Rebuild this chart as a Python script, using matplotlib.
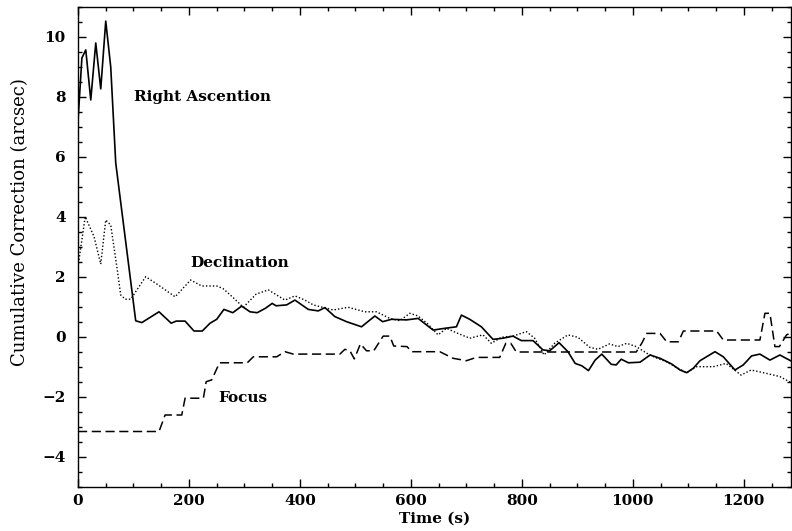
import matplotlib
matplotlib.use("Agg")
import matplotlib.pyplot as plt
from matplotlib.ticker import MultipleLocator

# Right Ascension (solid)
ra_t = [0, 7, 14, 23, 32, 41, 50, 59, 68, 104, 115, 146, 168, 177, 193, 209, 224, 238, 250, 263,
        279, 295, 310, 323, 338, 350, 357, 376, 391, 415, 433, 445, 463, 484, 511, 535, 549, 565,
        592, 613, 640, 661, 682, 691, 706, 727, 748, 766, 784, 799, 820, 838, 850, 867, 883, 896,
        908, 920, 932, 944, 961, 970, 979, 992, 1013, 1031, 1049, 1070, 1085, 1097, 1109, 1121,
        1148, 1163, 1184, 1199, 1214, 1229, 1247, 1265, 1285]
ra_v = [7.2, 9.3, 9.57, 7.9, 9.8, 8.27, 10.53, 9.0, 5.8, 0.54, 0.48, 0.84, 0.46, 0.53, 0.53, 0.2,
        0.2, 0.46, 0.59, 0.92, 0.81, 1.03, 0.84, 0.81, 0.96, 1.12, 1.04, 1.07, 1.23, 0.92, 0.87,
        0.98, 0.68, 0.51, 0.34, 0.7, 0.51, 0.59, 0.57, 0.62, 0.23, 0.29, 0.34, 0.73, 0.59, 0.34,
        -0.08, -0.04, 0.03, -0.12, -0.12, -0.43, -0.46, -0.19, -0.49, -0.88, -0.96, -1.12, -0.77,
        -0.57, -0.91, -0.93, -0.74, -0.86, -0.84, -0.6, -0.71, -0.9, -1.1, -1.19, -1.04, -0.79,
        -0.49, -0.66, -1.1, -0.93, -0.63, -0.57, -0.77, -0.6, -0.8]

# Declination (dotted)
dec_t = [0, 13, 29, 41, 50, 59, 70, 77, 85, 95, 122, 145, 175, 203, 223, 250, 261, 281, 298, 321,
         343, 373, 391, 409, 424, 460, 487, 517, 538, 562, 580, 598, 613, 629, 649, 664, 682, 706,
         730, 745, 763, 784, 808, 823, 840, 859, 883, 901, 922, 937, 958, 973, 989, 1006, 1025,
         1040, 1060, 1078, 1097, 1115, 1145, 1168, 1195, 1213, 1240, 1265, 1285]
dec_v = [2.34, 4.01, 3.34, 2.43, 3.9, 3.73, 2.34, 1.4, 1.26, 1.26, 2.01, 1.73, 1.34, 1.9, 1.7,
         1.7, 1.62, 1.29, 0.99, 1.43, 1.57, 1.23, 1.37, 1.23, 1.07, 0.9, 0.99, 0.84, 0.84, 0.62,
         0.54, 0.79, 0.7, 0.46, 0.07, 0.29, 0.14, -0.04, 0.07, -0.21, -0.01, 0.03, 0.18, -0.04,
         -0.6, -0.21, 0.07, -0.01, -0.34, -0.41, -0.23, -0.32, -0.21, -0.32, -0.54, -0.68, -0.82,
         -1.01, -1.19, -0.99, -0.99, -0.88, -1.27, -1.1, -1.21, -1.32, -1.52]

# Focus (dashed)
foc_t = [0, 146, 157, 187, 193, 226, 231, 241, 255, 305, 316, 358, 373, 388, 472, 481, 490, 498,
         509, 520, 533, 550, 562, 569, 593, 601, 652, 676, 700, 718, 760, 771, 780, 790, 1006,
         1016, 1025, 1049, 1061, 1082, 1091, 1151, 1163, 1229, 1238, 1247, 1256, 1264, 1277, 1285]
foc_v = [-3.15, -3.15, -2.6, -2.6, -2.04, -2.04, -1.49, -1.43, -0.86, -0.86, -0.66, -0.66, -0.49,
         -0.57, -0.57, -0.41, -0.46, -0.73, -0.23, -0.46, -0.46, 0.03, 0.03, -0.3, -0.32, -0.49,
         -0.49, -0.71, -0.79, -0.68, -0.68, -0.21, -0.21, -0.5, -0.5, -0.21, 0.12, 0.12, -0.16,
         -0.16, 0.2, 0.2, -0.1, -0.1, 0.79, 0.79, -0.32, -0.32, 0.07, 0.14]

labels = ["Right Ascention", "Declination", "Focus"]
label_pos = [(101, 8.0), (202, 2.47), (252, -2.03)]

plt.rcParams['font.family'] = ['DejaVu Serif']
plt.rcParams['font.weight'] = 'bold'

fig = plt.figure(figsize=(7.92, 5.31), dpi=100)
ax = fig.add_axes([78/792, 1-487/531, (791-78)/792, (487-7)/531])

ax.plot(ra_t, ra_v, color='black', lw=1.2, ls='-')
ax.plot(dec_t, dec_v, color='black', lw=1.0, ls=(0, (1, 1.5)))
ax.plot(foc_t, foc_v, color='black', lw=1.1, ls=(0, (6, 3)))

for lab, (x, y) in zip(labels, label_pos):
    ax.text(x, y, lab, fontsize=11, fontweight='bold', ha='left', va='center')

ax.set_xlim(0, 1285)
ax.set_ylim(-5, 11)
ax.xaxis.set_major_locator(MultipleLocator(200))
ax.xaxis.set_minor_locator(MultipleLocator(50))
ax.yaxis.set_major_locator(MultipleLocator(2))
ax.yaxis.set_minor_locator(MultipleLocator(0.5))
ax.tick_params(which='both', direction='in', top=True, right=True, width=1.0, labelsize=11)
ax.tick_params(which='major', length=6)
ax.tick_params(which='minor', length=3)
ax.tick_params(axis='y', which='major', pad=9)
ax.tick_params(axis='x', which='major', pad=5)
for s in ax.spines.values():
    s.set_linewidth(1.0)
ax.set_xlabel("Time (s)", fontsize=11, fontweight='bold', labelpad=3)
ax.set_ylabel("Cumulative Correction (arcsec)", fontsize=13, fontweight='normal')
ax.yaxis.set_label_coords(-0.069, 0.552)

fig.savefig("out.png", dpi=100)
